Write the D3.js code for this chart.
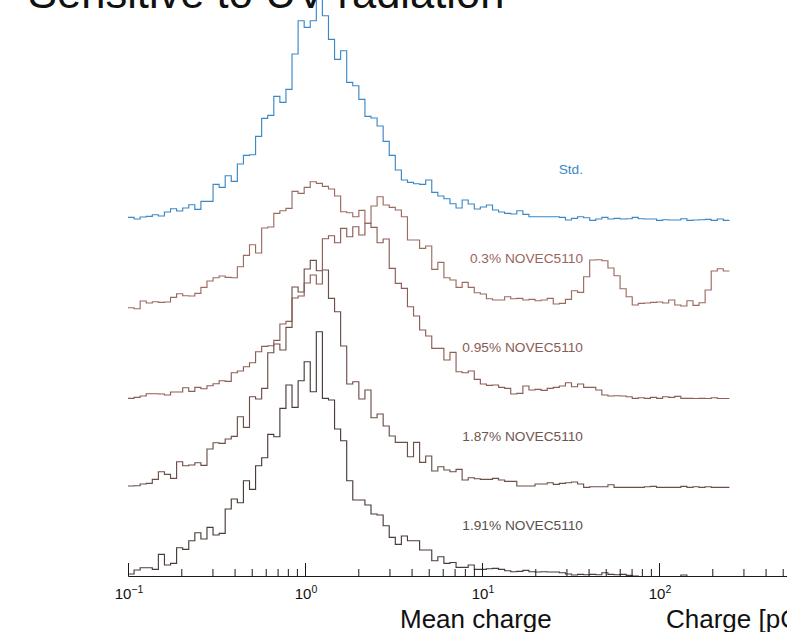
<!DOCTYPE html>
<html>
<head>
<meta charset="utf-8">
<script src="https://cdn.jsdelivr.net/npm/d3@7"></script>
<style>
  html, body { margin: 0; background: #fff; }
  svg { display: block; }
</style>
</head>
<body>
<svg id="chart" width="787" height="632"></svg>
<script>
// Log-spaced binning of the charge histograms
const binLo = 0.1, binHi = 250, nBins = 99;

const seriesLabels = ["1.91% NOVEC5110", "1.87% NOVEC5110", "0.95% NOVEC5110", "0.3% NOVEC5110", "Std."];

// Entries per bin (normalised), one array per gas mixture
const novec191 = [2.5,6.5,8.8,8.8,7.2,22.2,11.5,13.2,28.8,27.2, 35.8,43.8,37.5,49.2,41.5,43.2,67.5,77.5,73.8,95.8,
  87.2,110.8,118.8,142.2,139.8,168.2,191.5,169.2,195.8,214.8, 184.8,244.8,178.2,176.5,147.5,135.8,95.8,76.5,76.5,71.5,
  62.5,61.5,50.8,39.2,32.2,40.5,35.8,35.8,26.5,26.5, 15.8,19.8,13.2,14,9.2,9.2,11.5,7.2,7.2,7.8,
  8.2,7.2,5.8,4.8,5.2,6.2,4.8,4.5,4.8,4.5, 4.5,3.8,2.5,1.5,2.2,1.8,2.2,1.8,3.8,2.2,
  1.8,2.2,1.2,0.5,0,0,0,0,0,0, 0,1.5,0,0,0,0,0,0,0];

const novec187 = [1.5,1.8,3.5,4.2,8.2,15.8,13.2,9.2,25.8,21.8, 22.5,24.8,22.2,38.5,44.8,44.2,48.5,51.2,70.8,60.2,
  90.8,88.5,99.2,134.8,143.5,137.5,160.2,200.5,195.5,218.5, 227.2,216.8,217.5,189.2,175.8,141.5,103.5,105.8,88.5,97.5,
  69.8,73.5,61.5,51.5,45.2,45.2,30.8,45.2,25.2,31.5, 16.5,20.8,17.5,15.8,18.2,7.5,9.8,8.8,8.2,8.2,
  9.2,7.5,6.2,6.2,1.5,1.5,1.5,3.5,3.5,4.8, 3.2,4.2,4.8,5.5,3.5,0.2,0.8,0.8,0.8,2.8,
  0.2,0.2,0.2,0.2,0.2,0.8,1.2,0.2,0.2,0.2, 0.2,1.2,0.2,0.8,0.2,0.8,0.2,0.2,0.2];

const novec095 = [0.2,1.2,2.5,4.8,4.8,4.5,3.5,6.5,6.5,10.8, 7.2,11.2,9.8,12.8,14.8,17.8,17.2,25.8,27.5,31.8,
  35.8,46.8,52.2,52.8,58.2,74.5,77.2,100.5,102.5,115.5, 123.5,114.5,159.8,162.8,155.8,170.2,161.8,171.8,163.5,175.2,
  171.2,155.8,159.5,130.2,115.2,110.2,91.8,82.5,68.5,62.5, 50.2,50.2,38.5,46.2,26.8,25.8,27.5,19.2,14.5,13.2,
  13.5,11.2,10.2,4.5,5.2,12.5,8.5,9.2,8.2,10.2, 11.2,12.5,15.8,11.8,14.5,11.2,11.2,8.5,3.5,2.5,
  2.8,2.5,1.8,0.2,0.8,0.2,1.2,0.2,1.8,1.2, 2.2,0.2,0.2,0,0.2,0,0.8,0,0];

const novec030 = [1.8,0.8,8.5,6.5,7.8,7.2,7.5,12.2,15.8,13.8, 13.5,16.2,22.2,28.5,31.8,33.5,32.2,31.8,42.8,54.2,
  64.8,56.5,81.5,82.5,96.2,98.8,101.2,118.2,116.2,122.2, 127.8,126.2,123.2,120.5,113.5,97.8,96.8,92.8,99.2,86.2,
  103.5,112.8,104.5,102.2,99.5,92.8,69.5,69.5,61.2,63.5, 40.2,47.2,31.8,29.5,22.2,27.2,22.2,16.8,15.5,10.8,
  9.5,9.5,12.8,10.8,11.2,9.5,10.2,8.8,9.5,11.2, 5.5,6.2,10.2,18.8,17.2,32.8,49.5,49.8,48.8,41.5,
  33.8,20.8,12.8,4.5,6.2,6.5,7.2,7.5,6.5,9.5, 4.5,3.5,8.8,4.2,6.8,19.5,38.5,40.8,38.5];

const stdGas = [3.2,1.5,3.5,4.2,5.8,4.5,8.5,11.8,9.5,12.5, 15.8,11.2,19.2,19.2,36.2,33.2,44.8,39.2,56.5,65.2,
  65.8,84.2,102.2,105.2,124.2,118.2,131.2,166.5,199.8,193.2, 199.8,222,204.8,181.2,161.2,169.8,138.2,134.8,121.2,104.2,
  102.5,94.5,79.2,65.2,50.5,40.5,38.2,36.8,36.2,40.5, 28.2,24.5,21.8,16.8,12.5,20.5,16.5,11.5,13.5,15.5,
  10.5,8.5,7.2,6.5,9.8,6.2,3.8,3.8,3.8,3.8, 3.8,3.2,0.5,2.2,3.8,2.8,0.2,1.5,3.2,1.5,
  2.2,1.5,1.8,3.2,1.8,1.5,1.5,0.2,0.8,0.5, 0.5,1.8,0.2,0.5,0.8,1.2,0.2,1.5,0.2];

const majorTicks = [0.1, 1, 10, 100];
const tickExponents = ["\u22121", "0", "1", "2"];

// ---- drawing ----
const seriesValues = [novec191, novec187, novec095, novec030, stdGas];
const lineColors  = ["#4a3c39", "#6c4f48", "#8c5e55", "#9c6a60", "#3b88c6"];
const labelColors = ["#5a4f4c", "#6e5650", "#8a5c54", "#9a665d", "#3b88c6"];

const svg = d3.select("#chart");
const axisY = 576.5;      // baseline of the lowest ridge
const ridgeStep = 89;     // vertical offset between ridges
const font = "'Liberation Sans', Arial, Helvetica, sans-serif";

const x = d3.scaleLog().domain([0.1, 1000]).range([128, 836]);
const h = d3.scaleLinear().domain([0, 250]).range([0, 250]);

const edges = d3.range(nBins + 1).map(i => binLo * Math.pow(binHi / binLo, i / nBins));

// Histograms as step outlines, bottom ridge first
seriesValues.forEach((vals, k) => {
  const base = axisY - k * ridgeStep;
  const pts = vals.flatMap((v, i) => [[edges[i], v], [edges[i + 1], v]]);
  const line = d3.line().x(d => x(d[0])).y(d => base - h(d[1]));
  svg.append("path")
    .attr("d", line(pts))
    .attr("fill", "none")
    .attr("stroke", lineColors[k])
    .attr("stroke-width", 1.15)
    .attr("stroke-linejoin", "miter");

  svg.append("text")
    .attr("x", 583)
    .attr("y", base - 46.5)
    .attr("text-anchor", "end")
    .attr("font-family", font)
    .attr("font-size", 13.7)
    .attr("fill", labelColors[k])
    .text(seriesLabels[k]);
});

// Log axis: minor ticks (2..9 per decade) and major ticks, pointing up
const minorTicks = [0.1, 1, 10, 100].flatMap(m => d3.range(2, 10).map(j => m * j));

const gMinor = svg.append("g").attr("transform", `translate(0,${axisY - 0.5})`)
  .call(d3.axisBottom(x).tickValues(minorTicks).tickSizeInner(-7).tickSizeOuter(0).tickFormat(""));
const gMajor = svg.append("g").attr("transform", `translate(0,${axisY - 0.5})`)
  .call(d3.axisBottom(x).tickValues(majorTicks).tickSizeInner(-13).tickSizeOuter(0).tickFormat(""));
[gMinor, gMajor].forEach(g => {
  g.selectAll("line").attr("stroke", "#1a1a1a");
  g.select(".domain").attr("stroke", "#1a1a1a");
});

const labels = svg.append("g");
majorTicks.forEach((t, i) => {
  const txt = labels.append("text")
    .attr("x", x(t) + 1)
    .attr("y", 599)
    .attr("text-anchor", "middle")
    .attr("font-family", font)
    .attr("font-size", 15)
    .attr("fill", "#111");
  txt.append("tspan").text("10");
  txt.append("tspan").attr("dy", -6).attr("font-size", 10.5).text(tickExponents[i]);
});

// Axis titles
svg.append("text").attr("x", 400).attr("y", 628)
  .attr("font-family", font).attr("font-size", 26).attr("fill", "#111")
  .text("Mean charge");
svg.append("text").attr("x", 666).attr("y", 628)
  .attr("font-family", font).attr("font-size", 26).attr("fill", "#111")
  .text("Charge [pC]");

// Title
svg.append("text").attr("x", 28).attr("y", 7.5)
  .attr("font-family", font).attr("font-size", 43.5).attr("fill", "#111")
  .text("Sensitive to UV radiation");
</script>
</body>
</html>
